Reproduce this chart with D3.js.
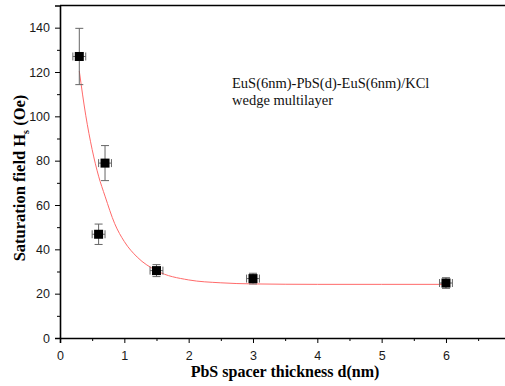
<!DOCTYPE html>
<html>
<head>
<meta charset="utf-8">
<script src="https://cdn.jsdelivr.net/npm/d3@7"></script>
<style>
  html, body { margin: 0; padding: 0; background: #fff; }
  svg { display: block; }
</style>
</head>
<body>
<div id="chart"></div>
<script>
// measured points (thickness in nm, saturation field in Oe)
const thickness = [0.3, 0.6, 0.7, 1.5, 3, 6];
const field = [127, 46.8, 78.9, 30.4, 26.8, 24.8];
const fieldErr = [12.7, 4.6, 7.9, 2.7, 2.4, 2.4];
const thicknessErr = [0.1, 0.1, 0.1, 0.1, 0.1, 0.1];

// fitted decay curve
const fitX = [0.3, 0.4, 0.5, 0.6, 0.7, 0.85, 1.0, 1.2, 1.5, 2.0, 2.5, 3.0, 4.0, 5.0, 6.0];
const fitY = [120.4, 100.5, 85, 73, 64, 51.6, 43.5, 36.5, 30.4, 26.2, 24.9, 24.4, 24.2, 24.2, 24.2];

const xMajor = [0, 1, 2, 3, 4, 5, 6];
const xMinor = [0.5, 1.5, 2.5, 3.5, 4.5, 5.5, 6.5];
const yMajor = [0, 20, 40, 60, 80, 100, 120, 140];
const yMinor = [10, 30, 50, 70, 90, 110, 130];

const width = 505, height = 386;

const svg = d3.select('#chart')
  .append('svg')
  .attr('width', width)
  .attr('height', height);

const x = d3.scaleLinear().domain([0, 7]).range([60, 510.3]);
const y = d3.scaleLinear().domain([0, 150]).range([338, 5.5]);

// frame (top line; right side is cut off by the picture)
svg.append('line')
  .attr('x1', x(0)).attr('x2', x(7))
  .attr('y1', y(150)).attr('y2', y(150))
  .attr('stroke', '#000').attr('stroke-width', 1.6);

// axes
svg.append('g')
  .attr('transform', `translate(0,${y(0)})`)
  .call(d3.axisBottom(x).tickValues(xMajor).tickSize(5).tickPadding(8).tickFormat(d3.format('d')));
svg.append('g')
  .attr('transform', `translate(0,${y(0)})`)
  .call(d3.axisBottom(x).tickValues(xMinor).tickSize(3).tickFormat(''))
  .call(g => g.select('.domain').remove());

svg.append('g')
  .attr('transform', `translate(${x(0)},0)`)
  .call(d3.axisLeft(y).tickValues(yMajor).tickSize(5).tickPadding(5).tickFormat(d3.format('d')));
svg.append('g')
  .attr('transform', `translate(${x(0)},0)`)
  .call(d3.axisLeft(y).tickValues(yMinor).tickSize(3).tickFormat(''))
  .call(g => g.select('.domain').remove());

svg.selectAll('.domain')
  .attr('stroke', '#000').attr('stroke-width', 1.6);
svg.selectAll('.tick line')
  .attr('stroke', '#000').attr('stroke-width', 1);
svg.selectAll('.tick text')
  .attr('font-family', 'Liberation Sans, Arial, sans-serif')
  .attr('font-size', 12.5)
  .attr('fill', '#1a1a1a');

// fit curve
const line = d3.line()
  .x((d, i) => x(fitX[i]))
  .y(d => y(d))
  .curve(d3.curveMonotoneX);

svg.append('path')
  .datum(fitY)
  .attr('d', line)
  .attr('fill', 'none')
  .attr('stroke', '#ff6a6a')
  .attr('stroke-width', 1);

// error bars
const errColor = '#666';
const bars = svg.append('g').attr('class', 'errors');
thickness.forEach((t, i) => {
  const cx = x(t), cy = y(field[i]);
  const y1 = y(field[i] + fieldErr[i]), y2 = y(field[i] - fieldErr[i]);
  const x1 = x(t - thicknessErr[i]), x2 = x(t + thicknessErr[i]);
  bars.append('line').attr('x1', cx).attr('x2', cx).attr('y1', y1).attr('y2', y2);
  bars.append('line').attr('x1', cx - 4).attr('x2', cx + 4).attr('y1', y1).attr('y2', y1);
  bars.append('line').attr('x1', cx - 4).attr('x2', cx + 4).attr('y1', y2).attr('y2', y2);
  bars.append('line').attr('x1', x1).attr('x2', x2).attr('y1', cy).attr('y2', cy);
  bars.append('line').attr('x1', x1).attr('x2', x1).attr('y1', cy - 4).attr('y2', cy + 4);
  bars.append('line').attr('x1', x2).attr('x2', x2).attr('y1', cy - 4).attr('y2', cy + 4);
});
bars.selectAll('line')
  .attr('stroke', errColor)
  .attr('stroke-width', 1);

// markers
svg.append('g')
  .selectAll('rect')
  .data(thickness)
  .enter().append('rect')
  .attr('x', d => x(d) - 4.5)
  .attr('y', (d, i) => y(field[i]) - 4.5)
  .attr('width', 9)
  .attr('height', 9)
  .attr('fill', '#000');

// axis titles
svg.append('text')
  .attr('x', 285)
  .attr('y', 377)
  .attr('text-anchor', 'middle')
  .attr('font-family', 'Liberation Serif, Times New Roman, serif')
  .attr('font-weight', 'bold')
  .attr('font-size', 16)
  .text('PbS spacer thickness d(nm)');

const yTitle = svg.append('text')
  .attr('transform', 'translate(25,178) rotate(-90)')
  .attr('text-anchor', 'middle')
  .attr('font-family', 'Liberation Serif, Times New Roman, serif')
  .attr('font-weight', 'bold')
  .attr('font-size', 16.5);
yTitle.append('tspan').text('Saturation field H');
yTitle.append('tspan').attr('font-size', 10).attr('dy', 4).text('s');
yTitle.append('tspan').attr('dy', -4).text(' (Oe)');

// annotation
const note = svg.append('g')
  .attr('font-family', 'Liberation Serif, Times New Roman, serif')
  .attr('font-size', 14.5)
  .attr('fill', '#111');
note.append('text').attr('x', 232).attr('y', 88).text('EuS(6nm)-PbS(d)-EuS(6nm)/KCl');
note.append('text').attr('x', 232).attr('y', 105).text('wedge multilayer');
</script>
</body>
</html>
